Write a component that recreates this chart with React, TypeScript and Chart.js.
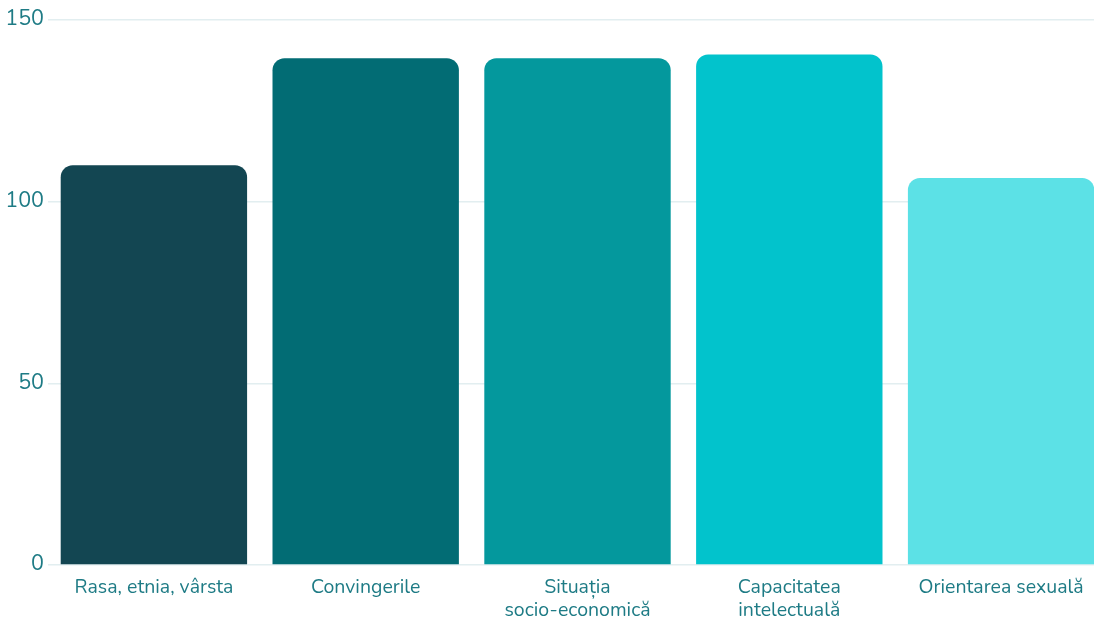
import React, { useEffect, useRef } from "react";
import { Chart, registerables } from "chart.js";

Chart.register(...registerables);

const categories: (string | string[])[] = [
  "Rasa, etnia, vârsta",
  "Convingerile",
  ["Situația", "socio-economică"],
  ["Capacitatea", "intelectuală"],
  "Orientarea sexuală",
];
const values: number[] = [110, 139.5, 139.5, 140.5, 106.5];
const barColors: string[] = ["#134652", "#026c74", "#04989d", "#02c3cc", "#5ce1e6"];
const yTicks: number[] = [0, 50, 100, 150];

const FONT = "Nunito, 'Open Sans', sans-serif";
const TEXT = "#1e7b85";

export default function App() {
  const ref = useRef<HTMLCanvasElement | null>(null);

  useEffect(() => {
    document.body.style.margin = "0";
    const canvas = ref.current;
    if (!canvas) return;
    const chart = new Chart(canvas, {
      type: "bar",
      data: {
        labels: categories,
        datasets: [
          {
            data: values,
            backgroundColor: barColors,
            borderRadius: 12,
            borderSkipped: "start",
            barPercentage: 0.88,
            categoryPercentage: 1,
          },
        ],
      },
      options: {
        animation: false,
        responsive: false,
        layout: { padding: { top: 20, right: 0, bottom: 0, left: 0 } },
        plugins: { legend: { display: false }, tooltip: { enabled: false } },
        scales: {
          x: {
            grid: { display: false, drawTicks: false },
            border: { display: false },
            ticks: {
              color: TEXT,
              font: { family: FONT, size: 19.5, lineHeight: 1.22 },
              padding: 11,
              maxRotation: 0,
              autoSkip: false,
            },
            afterFit: (scale: any) => {
              scale.height = 57;
            },
          },
          y: {
            min: 0,
            max: 150,
            afterBuildTicks: (scale: any) => {
              scale.ticks = yTicks.map((v) => ({ value: v }));
            },
            grid: { color: "#e2eef0", lineWidth: 1.5, drawTicks: false },
            border: { display: false },
            ticks: {
              color: TEXT,
              font: { family: FONT, size: 21.5 },
              padding: 4,
            },
            afterFit: (scale: any) => {
              scale.width = 48;
            },
          },
        },
      },
    });
    return () => chart.destroy();
  }, []);

  return (
    <div style={{ width: 1094, height: 622, overflow: "hidden", background: "#fff" }}>
      <canvas ref={ref} width={1107} height={622} style={{ display: "block" }} />
    </div>
  );
}
